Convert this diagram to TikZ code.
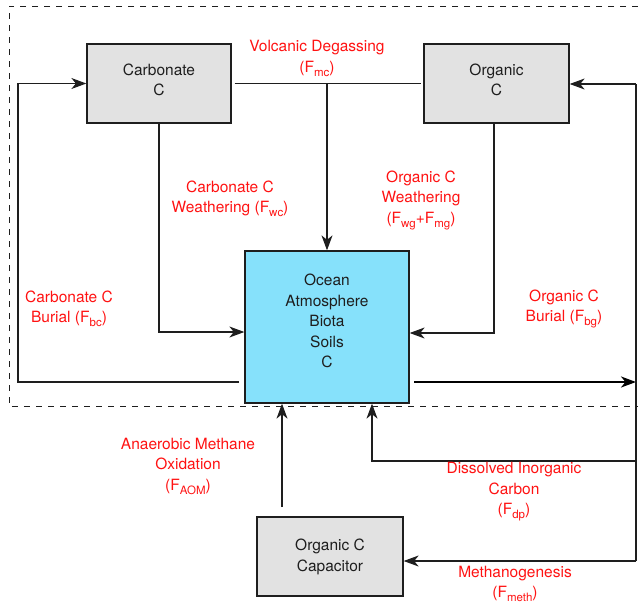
\documentclass[tikz,border=0pt]{standalone}
\usepackage{fontspec}
\setmainfont{TeX Gyre Heros}
\usetikzlibrary{arrows.meta}
\definecolor{boxgray}{RGB}{226,226,226}
\definecolor{oceanblue}{RGB}{134,225,251}
\definecolor{linegray}{RGB}{30,30,30}
\definecolor{labelred}{RGB}{255,18,18}
\newcommand{\fsb}[1]{\raisebox{-4pt}{\fontsize{11.5}{12}\selectfont #1}}
\begin{document}
\begin{tikzpicture}[x=1pt,y=-1pt,
  font=\fontsize{15.5}{20.5}\selectfont,
  box/.style={draw=linegray, line width=1.3pt, inner sep=0pt},
  boxtext/.style={align=center, text=linegray, inner sep=0pt},
  flux/.style={align=center, text=labelred, inner sep=0pt},
  conn/.style={draw=linegray, line width=1.2pt},
  arr/.style={conn, -{Stealth[length=15pt,width=11pt,inset=4.5pt]}},
  thickarr/.style={draw=black, line width=2.4pt, -{Stealth[length=15pt,width=11pt,inset=4.5pt]}},
  border/.style={draw=linegray, line width=1pt, dash pattern=on 6pt off 6pt}]
\useasboundingbox (0,0) rectangle (638,606);

% dashed frame
\draw[border] (638,6) -- (9,6) -- (9,406) -- (638,406);

% boxes
\node[box, fill=boxgray, minimum width=144pt, minimum height=79pt] (carb) at (159,83.5) {};
\node[boxtext] (carbtxt) at (159,80) {Carbonate\\C};
\node[box, fill=boxgray, minimum width=145pt, minimum height=79pt] (org) at (496.5,83.5) {};
\node[boxtext] (orgtxt) at (496.5,80) {Organic\\C};
\node[box, fill=oceanblue, minimum width=164pt, minimum height=152pt] (ocean) at (327,327) {};
\node[boxtext] (oceantxt) at (327,321) {Ocean\\Atmosphere\\Biota\\Soils\\C};
\node[box, fill=boxgray, minimum width=146pt, minimum height=79pt] (cap) at (330,556.5) {};
\node[boxtext] (captxt) at (330,557) {Organic C\\Capacitor};

% helper coordinates
\coordinate (lstart) at (239,382);
\coordinate (lcorner) at (18,382);
\coordinate (rstart) at (414,382);
\coordinate (rjoin) at (636,382);
\coordinate (rtop) at (636,84);
\coordinate (rdic) at (636,461);
\coordinate (rbot) at (636,561);
\coordinate (dicx) at (372,461);
\coordinate (aom) at (282,507);
\coordinate (volc) at (327,83.5);

% volcanic degassing
\draw[conn, shorten <=3pt, shorten >=2pt] (carb.east) -- (org.west);
\draw[arr] (volc) -- (volc |- ocean.north);

% carbonate weathering
\draw[arr] (carb.south) |- ([yshift=-5pt]ocean.west);
% organic weathering
\draw[arr] ([xshift=-2.5pt]org.south) |- ([yshift=-6pt]ocean.east);

% carbonate burial
\draw[arr] (lstart) -- (lcorner) |- (carb.west);

% organic burial
\draw[thickarr] (rstart) -- (rjoin);
\draw[conn] (rtop) -- (rbot);
\draw[arr] (rtop) -- (rtop -| org.east);

% dissolved inorganic carbon
\draw[arr] (rdic) -- (dicx) -- (dicx |- ocean.south);
% methanogenesis
\draw[arr] (rbot) -- (rbot -| cap.east);
% AOM
\draw[arr] (aom) -- (aom |- ocean.south);

% labels
\node[flux] (lvolc) at (317,58.5) {Volcanic Degassing\\(F\fsb{mc})};
\node[flux] (lcw) at (230,199) {Carbonate C\\Weathering (F\fsb{wc})};
\node[flux] (low) at (421,200) {Organic C\\Weathering\\(F\fsb{wg}+F\fsb{mg})};
\node[flux] (lcb) at (69,309) {Carbonate C\\Burial (F\fsb{bc})};
\node[flux] (lob) at (564,309) {Organic C\\Burial (F\fsb{bg})};
\node[flux] (laom) at (188,466) {Anaerobic Methane\\Oxidation\\(F\fsb{AOM})};
\node[flux] (ldic) at (514,492) {Dissolved Inorganic\\Carbon\\(F\fsb{dp})};
\node[flux] (lmeth) at (515,584) {Methanogenesis\\(F\fsb{meth})};
\end{tikzpicture}
\end{document}
